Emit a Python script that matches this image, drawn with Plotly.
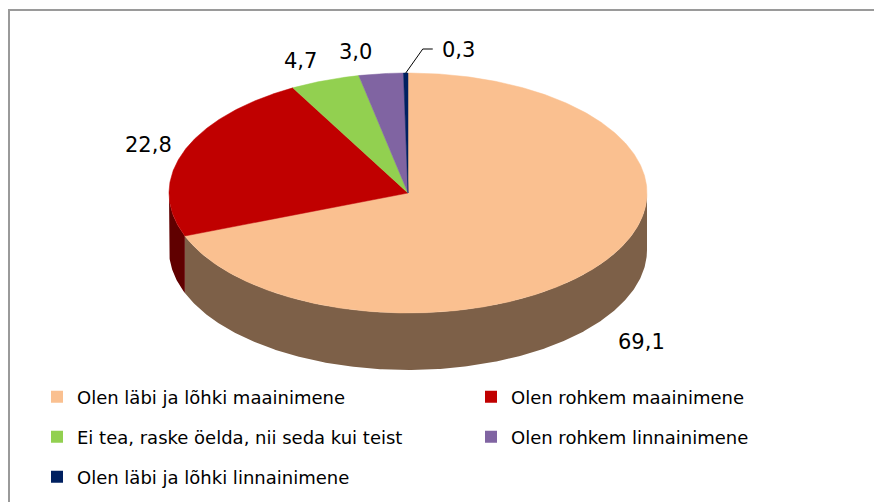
import numpy as np
import plotly.graph_objects as go

# ---------------- data ----------------
categories = [
    "Olen läbi ja lõhki maainimene",
    "Olen rohkem maainimene",
    "Ei tea, raske öelda, nii seda kui teist",
    "Olen rohkem linnainimene",
    "Olen läbi ja lõhki linnainimene",
]
values = [69.1, 22.8, 4.7, 3.0, 0.3]

# ---------------- style ----------------
TOP_COLORS = ["#FAC090", "#C00000", "#92D050", "#8064A2", "#002060"]
SIDE_COLORS = ["#7D6048", "#600000", "#496828", "#403251", "#001030"]
CX, CY, RX, RY, DEPTH = 408, 193, 239, 120, 57
W, H = 882, 502
OFF = 8  # page body margin: axis units equal window pixels
LABEL_OFFSETS = [(37, 24), (-35, -7), (-24, -20), (-26, -22), (53, -23)]
LEGEND_SPOTS = [(57, 397), (491, 397), (57, 437), (491, 437), (57, 477)]
FONT = "DejaVu Sans"
FRAME_COLOR = "#9A9A9A"


def pt(t_deg, drop=0.0):
    t = np.radians(t_deg)
    return CX + RX * np.sin(t), CY - RY * np.cos(t) + drop


def px(x):
    return (x - OFF) / W


def py(y):
    return 1 - (y - OFF) / H


total = sum(values)
ends = np.cumsum(values) / total * 360.0
starts = np.concatenate([[0.0], ends[:-1]])

fig = go.Figure()

# side walls (front half only: 90..270 deg clockwise from top)
for i, (t0, t1) in enumerate(zip(starts, ends)):
    lo, hi = max(t0, 90.0), min(t1, 270.0)
    if hi <= lo:
        continue
    ts = np.linspace(lo, hi, int(hi - lo) * 2 + 2)
    xt, yt = pt(ts)
    xb, yb = pt(ts[::-1], DEPTH)
    fig.add_trace(go.Scatter(
        x=np.concatenate([xt, xb, xt[:1]]), y=np.concatenate([yt, yb, yt[:1]]),
        mode="lines", fill="toself", fillcolor=SIDE_COLORS[i],
        line=dict(width=0, color=SIDE_COLORS[i]), hoverinfo="skip", showlegend=False))

# top faces
for i, (t0, t1) in enumerate(zip(starts, ends)):
    ts = np.linspace(t0, t1, max(int(t1 - t0) * 2 + 2, 3))
    xa, ya = pt(ts)
    fig.add_trace(go.Scatter(
        x=np.concatenate([[CX], xa, [CX]]), y=np.concatenate([[CY], ya, [CY]]),
        mode="lines", fill="toself", fillcolor=TOP_COLORS[i],
        line=dict(width=0.5, color=TOP_COLORS[i]), name=categories[i],
        hoverinfo="name", showlegend=False))

# legend entries (one legend per entry to mimic Excel's two-column layout)
layout_legends = {}
for i, cat in enumerate(categories):
    key = "legend" if i == 0 else f"legend{i + 1}"
    fig.add_trace(go.Scatter(
        x=[None], y=[None], mode="markers", name=cat, legend=key,
        marker=dict(symbol="square", size=12, color=TOP_COLORS[i], line=dict(width=0))))
    sx, sy = LEGEND_SPOTS[i]
    layout_legends[key] = dict(
        x=px(sx - 20), xanchor="left", y=py(sy), yanchor="middle",
        orientation="h", bgcolor="rgba(0,0,0,0)", borderwidth=0,
        font=dict(family=FONT, size=18, color="#000000"))

# data labels
annotations = []
for i, (t0, t1) in enumerate(zip(starts, ends)):
    mid = (t0 + t1) / 2
    front = 90 < mid < 270
    mx, my = pt(mid, DEPTH if front else 0)
    dx, dy = LABEL_OFFSETS[i]
    lx, ly = mx + dx, my + dy
    annotations.append(dict(
        x=lx, y=ly, xref="x", yref="y", text=f"{values[i]:.1f}".replace(".", ","),
        showarrow=False, xanchor="center", yanchor="middle",
        font=dict(family=FONT, size=21, color="#000000")))
    if i == len(values) - 1:
        # leader line for the tiny slice
        fig.add_trace(go.Scatter(
            x=[mx, lx - 36, lx - 26], y=[my, ly - 1, ly - 1], mode="lines",
            line=dict(color="#000000", width=1), hoverinfo="skip", showlegend=False))

fig.update_layout(
    width=W, height=H, autosize=False,
    margin=dict(l=0, r=0, t=0, b=0, pad=0),
    paper_bgcolor="white", plot_bgcolor="white",
    xaxis=dict(range=[OFF, W + OFF], visible=False, fixedrange=True),
    yaxis=dict(range=[H + OFF, OFF], visible=False, fixedrange=True),
    annotations=annotations,
    shapes=[
        dict(type="line", xref="paper", yref="paper", x0=px(8), y0=py(10), x1=1.05, y1=py(10),
             line=dict(color=FRAME_COLOR, width=2), layer="below"),
        dict(type="line", xref="paper", yref="paper", x0=px(9), y0=py(9), x1=px(9), y1=-0.05,
             line=dict(color=FRAME_COLOR, width=2), layer="below"),
    ],
    **layout_legends,
)

fig.write_html("out.html")
